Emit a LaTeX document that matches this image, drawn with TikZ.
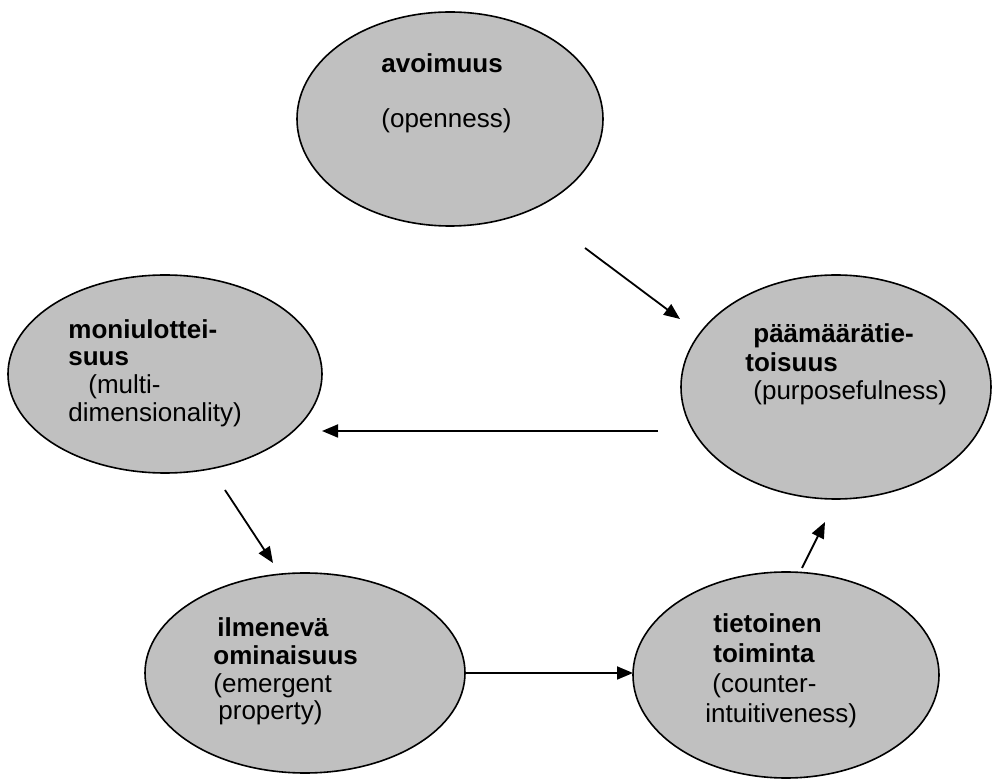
\documentclass[tikz,border=0pt]{standalone}
\usepackage{fontspec}
\setmainfont{Liberation Sans}
\usetikzlibrary{shapes.geometric,arrows.meta}
\definecolor{bubblegray}{RGB}{192,192,192}
\begin{document}
\begin{tikzpicture}[x=0.5pt,y=-0.5pt,
  bubble/.style={ellipse, draw=black, line width=0.8pt, fill=bubblegray,
                 inner sep=0pt, outer sep=0pt},
  word/.style={anchor=base west, inner sep=0pt, font=\fontsize{13}{15}\selectfont},
  key/.style={word, font=\fontsize{13}{15}\selectfont\bfseries},
  link/.style={line width=0.9pt, -{Triangle[length=8pt,width=6.5pt]}}]

\useasboundingbox (0,0) rectangle (1008,780);

% the five properties
\node[bubble, minimum width=153pt, minimum height=107pt] (open)  at (450,119) {};
\node[bubble, minimum width=155pt, minimum height=112pt] (purp)  at (836,387) {};
\node[bubble, minimum width=157pt, minimum height=99pt]  (multi) at (165,374) {};
\node[bubble, minimum width=160pt, minimum height=100pt] (emerg) at (305,673) {};
\node[bubble, minimum width=153pt, minimum height=103pt] (aware) at (786,675) {};

% labels
\node[key]  (open1) at (381,73)  {avoimuus};
\node[word] (open2) at (381,128) {(openness)};

\node[key]  (purp1) at (753,343) {päämäärätie-};
\node[key]  (purp2) at (745,372) {toisuus};
\node[word] (purp3) at (753,400) {(purposefulness)};

\node[key]  (multi1) at (68,339) {moniulottei-};
\node[key]  (multi2) at (68,366) {suus};
\node[word] (multi3) at (88,394) {(multi-};
\node[word] (multi4) at (68,422) {dimensionality)};

\node[key]  (emerg1) at (217,637) {ilmenevä};
\node[key]  (emerg2) at (213,665) {ominaisuus};
\node[word] (emerg3) at (213,693) {(emergent};
\node[word] (emerg4) at (218,720) {property)};

\node[key]  (aware1) at (713,633) {tietoinen};
\node[key]  (aware2) at (713,663) {toiminta};
\node[word] (aware3) at (712,693) {(counter-};
\node[word] (aware4) at (705,723) {intuitiveness)};

% arrow end points, set apart from the ellipses
\coordinate (openOut)  at (585,248);
\coordinate (purpIn)   at (680,319);
\coordinate (purpOut)  at (658,431);
\coordinate (multiIn)  at (322,431);
\coordinate (multiOut) at (225,490);
\coordinate (emergIn)  at (273,563);
\coordinate (emergOut) at (465,673);
\coordinate (awareIn)  at (633,673);
\coordinate (awareOut) at (802,568);
\coordinate (purpIn2)  at (825,522);

\draw[link] (openOut)  -- (purpIn);
\draw[link] (purpOut)  -- (multiIn);
\draw[link] (multiOut) -- (emergIn);
\draw[link] (emergOut) -- (awareIn);
\draw[link] (awareOut) -- (purpIn2);
\end{tikzpicture}
\end{document}
